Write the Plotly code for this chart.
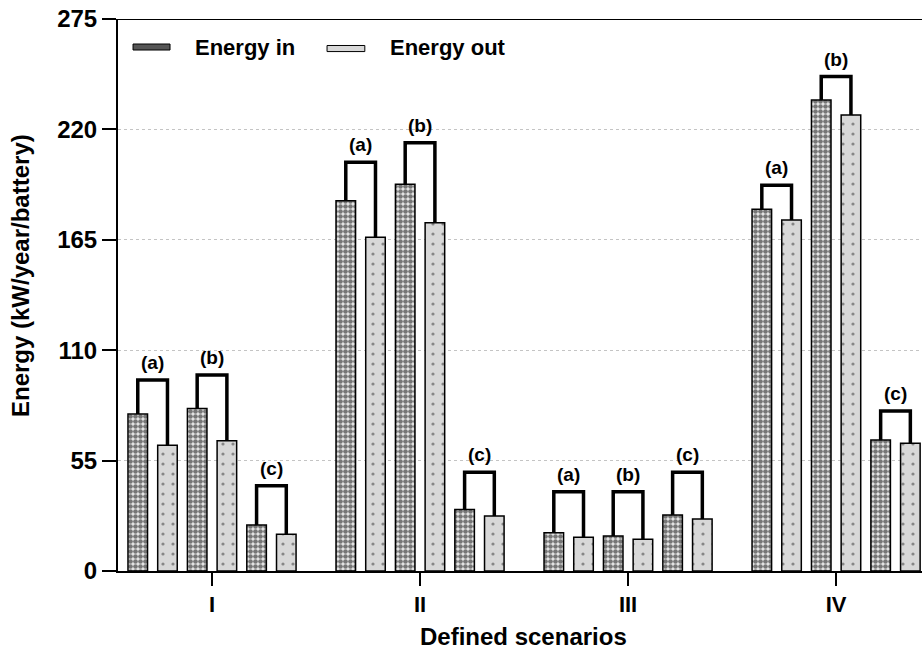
import plotly.graph_objects as go

scenarios = ["I", "II", "III", "IV"]
subgroups = ["(a)", "(b)", "(c)"]
energy_in = [[78.2, 80.9, 22.9], [184.5, 192.7, 30.7], [19.1, 17.4, 27.9], [180.2, 234.7, 65.3]]
energy_out = [[62.6, 64.9, 18.3], [166.3, 173.5, 27.4], [16.8, 15.8, 25.9], [174.9, 227.2, 63.6]]
bracket_top = [[95.2, 97.7, 42.5], [203.6, 213.4, 49.2], [39.5, 39.5, 49.2], [192.2, 246.3, 79.7]]
y_ticks = [0, 55, 110, 165, 220, 275]

PITCH = 0.1428
WIDTH = 0.094
FONT = "Liberation Sans, Arial, sans-serif"

x_in, y_in, x_out, y_out = [], [], [], []
bx, by = [], []
annotations = []
for s, _ in enumerate(scenarios):
    for g, lab in enumerate(subgroups):
        xi = s + (2 * g - 2.5) * PITCH
        xo = s + (2 * g + 1 - 2.5) * PITCH
        vi, vo, top = energy_in[s][g], energy_out[s][g], bracket_top[s][g]
        x_in.append(xi); y_in.append(vi)
        x_out.append(xo); y_out.append(vo)
        bx += [xi, xi, xo, xo, None]
        by += [vi, top, top, vo, None]
        annotations.append(dict(x=(xi + xo) / 2, y=top, text="<b>" + lab + "</b>", showarrow=False,
                                yanchor="bottom", yshift=5, font=dict(size=19, color="black", family=FONT)))

fig = go.Figure()
fig.add_trace(go.Bar(x=x_in, y=y_in, width=WIDTH, name="Energy in", showlegend=False,
                     marker=dict(color="white", line=dict(color="black", width=1.5),
                                 pattern=dict(shape=".", fgcolor="#000", bgcolor="#ececec", size=5, solidity=0.68))))
fig.add_trace(go.Bar(x=x_out, y=y_out, width=WIDTH, name="Energy out", showlegend=False,
                     marker=dict(color="#d8d8d8", line=dict(color="black", width=1.5),
                                 pattern=dict(shape=".", fgcolor="#333", bgcolor="#d8d8d8", size=10, solidity=0.08))))
fig.add_trace(go.Scatter(x=bx, y=by, mode="lines", line=dict(color="black", width=3.5),
                         showlegend=False, hoverinfo="skip"))

# custom legend
shapes = [
    dict(type="rect", xref="paper", yref="paper", x0=0.0187, x1=0.0647, y0=0.9438, y1=0.9547,
         fillcolor="#555", line=dict(color="black", width=1)),
    dict(type="rect", xref="paper", yref="paper", x0=0.26, x1=0.307, y0=0.9410, y1=0.9520,
         fillcolor="#d8d8d8", line=dict(color="black", width=1)),
    dict(type="line", xref="paper", yref="y", x0=0, x1=1, y0=275, y1=275, line=dict(color="black", width=2)),
]
annotations += [
    dict(x=0.0933, y=0.949, xref="paper", yref="paper", text="<b>Energy in</b>", showarrow=False,
         xanchor="left", yanchor="middle", font=dict(size=22, color="black", family=FONT)),
    dict(x=0.3358, y=0.949, xref="paper", yref="paper", text="<b>Energy out</b>", showarrow=False,
         xanchor="left", yanchor="middle", font=dict(size=22, color="black", family=FONT)),
    dict(x=-0.122, y=0.536, xref="paper", yref="paper", text="<b>Energy (kW/year/battery)</b>",
         showarrow=False, textangle=-90, xanchor="center", yanchor="middle",
         font=dict(size=24, color="black", family=FONT)),
    dict(x=0.5045, y=-0.118, xref="paper", yref="paper", text="<b>Defined scenarios</b>",
         showarrow=False, xanchor="center", yanchor="middle",
         font=dict(size=24, color="black", family=FONT)),
]

fig.update_layout(
    width=922, height=651, margin=dict(l=118, r=0, t=19, b=80),
    plot_bgcolor="white", paper_bgcolor="white", barmode="overlay",
    shapes=shapes, annotations=annotations,
    font=dict(family=FONT, color="black"),
)
fig.update_xaxes(range=[-0.452, 3.413], tickmode="array", tickvals=list(range(len(scenarios))),
                 ticktext=["<b>" + s + "</b>" for s in scenarios], ticks="outside", ticklen=13,
                 tickwidth=2, tickcolor="black", showline=True, linecolor="black", linewidth=2,
                 showgrid=False, zeroline=False, tickfont=dict(size=22, color="black"))
fig.update_yaxes(range=[0, 275], tickmode="array", tickvals=y_ticks,
                 ticktext=["<b>%d</b>" % v for v in y_ticks], ticks="outside", ticklen=14,
                 tickwidth=2, tickcolor="black", showline=True, linecolor="black", linewidth=2,
                 showgrid=True, gridcolor="#c4c4c4", griddash="dot", gridwidth=1, zeroline=False,
                 tickfont=dict(size=24, color="black"))

fig.write_html("out.html")
